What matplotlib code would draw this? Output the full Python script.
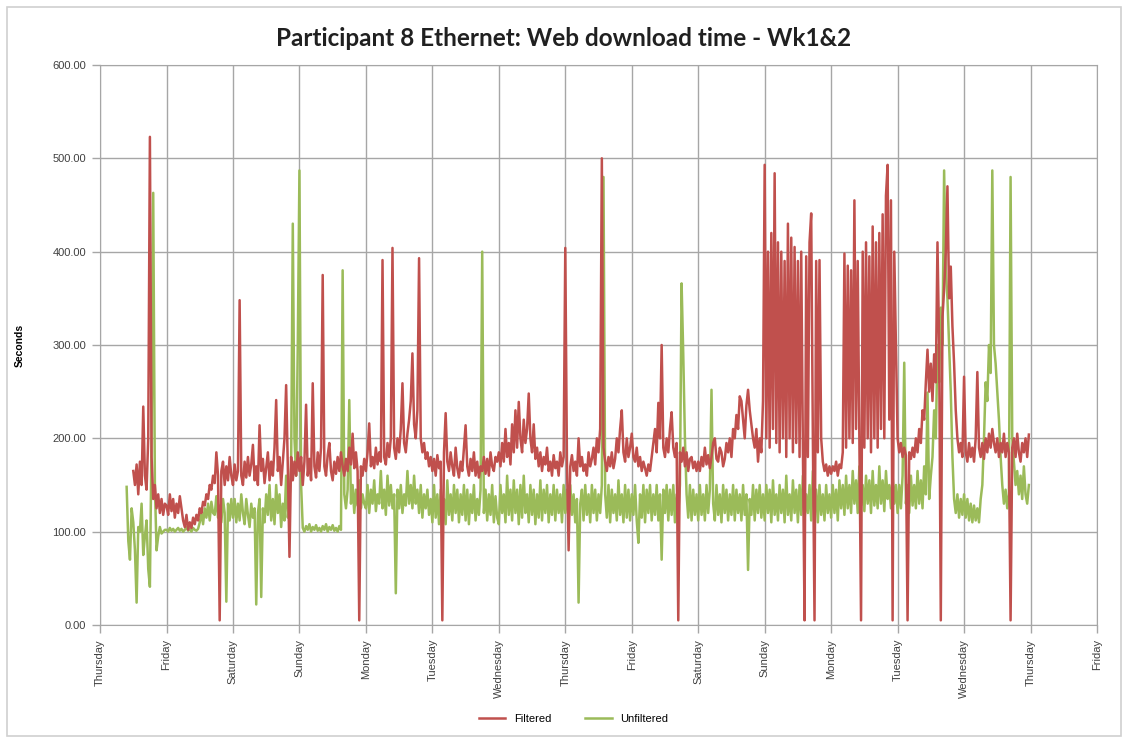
import numpy as np
import matplotlib
matplotlib.use("Agg")
import matplotlib.pyplot as plt
from matplotlib.patches import Rectangle

# ---------------- data ----------------
day_labels = ["Thursday", "Friday", "Saturday", "Sunday", "Monday", "Tuesday",
              "Wednesday", "Thursday", "Friday", "Saturday", "Sunday", "Monday",
              "Tuesday", "Wednesday", "Thursday", "Friday"]
y_ticks = [0, 100, 200, 300, 400, 500, 600]

sample_step = 0.025         # days between samples
filtered_start = 0.50       # day of first filtered sample
unfiltered_start = 0.40     # day of first unfiltered sample

filtered = [
    # day 0 (0.500 - 0.975)
    165, 150, 172, 140, 175, 150, 234, 160, 145, 200, 523, 180, 135, 150, 125, 140, 120, 135, 118, 130,
    # day 1
    128, 118, 140, 122, 135, 115, 130, 120, 138, 125, 112, 105, 118, 102, 110, 104, 115, 108, 118, 112,
    125, 120, 132, 128, 140, 135, 150, 145, 160, 152, 185, 160, 5, 165, 175, 150, 170, 155, 180, 160,
    # day 2
    150, 172, 155, 165, 348, 160, 150, 175, 158, 180, 160, 172, 193, 155, 170, 150, 214, 165, 178, 152,
    168, 185, 155, 175, 160, 190, 241, 165, 180, 150, 175, 200, 257, 170, 73, 180, 155, 175, 160, 185,
    # day 3
    165, 180, 150, 175, 236, 160, 178, 155, 259, 170, 158, 185, 165, 190, 375, 170, 160, 182, 195, 165,
    155, 175, 162, 180, 165, 185, 170, 160, 178, 165, 190, 172, 205, 168, 185, 165, 5, 170, 160, 178,
    # day 4
    165, 185, 216, 170, 180, 168, 190, 172, 185, 175, 391, 180, 172, 195, 180, 200, 404, 190, 178, 200,
    185, 210, 259, 195, 185, 205, 220, 240, 291, 215, 200, 230, 393, 200, 185, 195, 178, 185, 170, 180,
    # day 5
    165, 178, 160, 182, 168, 175, 5, 185, 227, 175, 165, 185, 170, 160, 190, 168, 158, 175, 165, 190,
    214, 170, 160, 178, 165, 185, 160, 175, 158, 170, 165, 180, 162, 178, 160, 185, 170, 165, 180, 175,
    # day 6
    185, 170, 195, 175, 210, 180, 195, 172, 215, 185, 230, 190, 239, 200, 185, 220, 195, 210, 248, 200,
    185, 215, 178, 190, 170, 185, 165, 180, 172, 190, 165, 175, 160, 182, 168, 175, 160, 185, 170, 180,
    # day 7
    404, 175, 80, 170, 182, 165, 175, 160, 200, 170, 180, 165, 172, 160, 185, 170, 178, 190, 172, 200,
    185, 210, 500, 190, 175, 165, 180, 170, 185, 168, 178, 200, 185, 210, 230, 185, 175, 200, 180, 190,
    # day 8
    205, 180, 175, 190, 170, 180, 165, 175, 168, 160, 172, 165, 180, 195, 210, 185, 238, 200, 300, 190,
    180, 200, 185, 210, 228, 190, 180, 195, 5, 185, 175, 190, 170, 185, 165, 178, 180, 168, 175, 165,
    # day 9
    175, 165, 180, 170, 190, 172, 182, 168, 180, 195, 200, 178, 175, 190, 185, 170, 178, 195, 185, 200,
    180, 210, 200, 225, 210, 245, 240, 220, 200, 235, 252, 230, 215, 200, 190, 210, 175, 200, 185, 240,
    # day 10
    493, 200, 400, 190, 420, 210, 484, 195, 410, 185, 400, 200, 390, 180, 430, 200, 415, 185, 405, 195,
    390, 180, 400, 190, 5, 395, 180, 410, 441, 200, 5, 390, 185, 391, 200, 175, 165, 172, 160, 170,
    # day 11
    162, 170, 165, 175, 160, 172, 168, 185, 398, 190, 385, 200, 380, 195, 455, 210, 390, 200, 5, 400,
    190, 410, 200, 395, 185, 427, 200, 410, 190, 420, 210, 440, 200, 460, 493, 220, 455, 5, 400, 300,
    # day 12
    200, 185, 195, 180, 190, 182, 5, 185, 178, 190, 180, 200, 185, 210, 195, 230, 220, 260, 295, 250,
    280, 240, 290, 260, 410, 300, 5, 330, 360, 400, 470, 350, 384, 320, 280, 230, 200, 185, 195, 180,
    # day 13
    266, 185, 175, 195, 180, 190, 175, 200, 271, 190, 180, 195, 178, 200, 185, 205, 190, 210, 195, 185,
    200, 180, 195, 185, 205, 180, 195, 185, 5, 190, 200, 180, 205, 185, 175, 195, 185, 200, 180, 204,
]

unfiltered = [
    # day 0 (0.400 - 0.975)
    148, 90, 70, 125, 110, 80, 24, 105, 100, 130, 75, 95, 112, 60, 41, 200, 463, 150, 80, 95, 105, 98, 100, 102,
    # day 1
    102, 100, 104, 101, 103, 100, 102, 104, 101, 103, 100, 102, 105, 101, 103, 100, 104, 102, 101, 103,
    110, 120, 108, 125, 115, 130, 112, 132, 120, 118, 138, 115, 128, 110, 135, 120, 25, 130, 112, 135,
    # day 2
    115, 135, 110, 130, 112, 140, 120, 108, 135, 118, 105, 130, 115, 125, 22, 120, 135, 30, 125, 110,
    140, 118, 150, 112, 135, 108, 150, 120, 140, 105, 130, 112, 160, 115, 135, 170, 430, 200, 160, 300,
    # day 3
    487, 150, 104, 100, 106, 102, 108, 100, 105, 102, 107, 101, 104, 100, 106, 102, 108, 100, 105, 102,
    107, 101, 104, 100, 106, 102, 380, 140, 125, 145, 241, 130, 150, 120, 145, 128, 155, 125, 140, 130,
    # day 4
    125, 150, 120, 145, 130, 155, 122, 140, 130, 165, 125, 145, 118, 160, 128, 150, 125, 140, 34, 145,
    125, 150, 120, 140, 128, 165, 130, 150, 125, 160, 130, 145, 120, 150, 115, 140, 125, 145, 118, 135,
    # day 5
    110, 150, 115, 140, 108, 145, 120, 135, 108, 155, 118, 140, 112, 150, 120, 145, 110, 140, 118, 150,
    112, 145, 108, 140, 120, 150, 112, 135, 118, 145, 400, 120, 145, 112, 140, 118, 150, 110, 138, 115,
    # day 6
    108, 150, 120, 140, 110, 160, 118, 145, 112, 155, 120, 145, 108, 150, 115, 160, 120, 140, 110, 150,
    118, 145, 108, 140, 115, 155, 112, 145, 120, 150, 110, 140, 118, 150, 112, 145, 120, 140, 110, 150,
    # day 7
    120, 145, 112, 150, 118, 140, 110, 135, 24, 130, 145, 112, 150, 118, 140, 110, 150, 120, 145, 112,
    140, 120, 150, 480, 140, 115, 150, 110, 145, 120, 140, 112, 155, 118, 140, 110, 150, 115, 145, 112,
    # day 8
    140, 118, 150, 112, 88, 140, 115, 150, 110, 145, 120, 150, 112, 140, 118, 150, 112, 140, 70, 145,
    120, 150, 112, 145, 118, 150, 110, 140, 120, 150, 366, 290, 200, 140, 115, 150, 112, 145, 118, 140,
    # day 9
    112, 150, 118, 140, 112, 150, 120, 145, 252, 130, 112, 150, 118, 140, 110, 150, 120, 145, 112, 140,
    118, 150, 112, 145, 120, 140, 112, 150, 118, 140, 59, 135, 118, 150, 112, 145, 120, 150, 115, 140,
    # day 10
    112, 150, 120, 145, 110, 155, 118, 140, 112, 150, 120, 145, 110, 160, 118, 140, 112, 155, 120, 145,
    110, 150, 118, 160, 112, 140, 120, 150, 112, 165, 120, 145, 110, 150, 118, 140, 112, 150, 120, 140,
    # day 11
    115, 150, 120, 145, 112, 155, 125, 150, 118, 160, 125, 150, 120, 165, 130, 155, 120, 170, 128, 150,
    122, 160, 130, 155, 120, 165, 128, 150, 125, 170, 130, 155, 122, 165, 135, 150, 125, 160, 130, 150,
    # day 12
    120, 150, 125, 160, 281, 130, 150, 120, 160, 128, 150, 125, 165, 130, 155, 125, 170, 140, 249, 135,
    160, 180, 230, 200, 300, 260, 340, 300, 487, 380, 350, 300, 250, 180, 135, 120, 140, 115, 135, 118,
    # day 13
    140, 115, 135, 112, 130, 110, 128, 112, 125, 110, 135, 150, 200, 260, 240, 300, 270, 487, 300, 280,
    250, 220, 180, 150, 130, 145, 125, 140, 480, 200, 175, 150, 165, 140, 160, 135, 170, 140, 130, 150,
]

# ---------------- figure ----------------
red = "#C0504D"
green = "#9BBB59"
grid_c = "#A6A6A6"
txt_font = "Liberation Sans"

fig = plt.figure(figsize=(11.28, 7.40), dpi=100)
fig.patches.append(Rectangle((0.006, 0.006), 0.988, 0.985, transform=fig.transFigure,
                             fill=False, edgecolor="#D0D0D0", linewidth=1.2))
ax = fig.add_axes([0.0887, 0.1554, 0.8838, 0.7568])

t_f = filtered_start + sample_step * np.arange(len(filtered))
t_u = unfiltered_start + sample_step * np.arange(len(unfiltered))

ax.plot(t_f, filtered, color=red, linewidth=1.8, label="Filtered", zorder=3)
ax.plot(t_u, unfiltered, color=green, linewidth=1.8, label="Unfiltered", zorder=2)

ax.set_xlim(0, len(day_labels) - 1)
ax.set_ylim(0, 600)
ax.set_xticks(np.arange(len(day_labels)))
ax.set_xticklabels(day_labels, rotation=90, fontsize=8, color="#404040", family=txt_font)
ax.set_yticks(y_ticks)
ax.set_yticklabels([f"{v:.2f}" for v in y_ticks], fontsize=8, color="#404040", family=txt_font)
ax.grid(True, color=grid_c, linewidth=1.0, zorder=0)
ax.set_axisbelow(True)
for s in ax.spines.values():
    s.set_color(grid_c)
ax.tick_params(axis="both", length=6, color=grid_c, width=1.0, pad=4)

ax.set_ylabel("Seconds", fontsize=7.5, fontweight="bold", family=txt_font, labelpad=20)
fig.text(0.5, 0.948, "Participant 8 Ethernet: Web download time - Wk1&2",
         ha="center", va="center", fontsize=17.5, fontweight="bold", family="Lato", color="#202020")

leg = ax.legend(loc="center", bbox_to_anchor=(0.475, -0.168), ncol=2, frameon=False,
                handlelength=2.4, columnspacing=3.0, prop={"family": txt_font, "size": 8})

fig.savefig("out.png", dpi=100)
